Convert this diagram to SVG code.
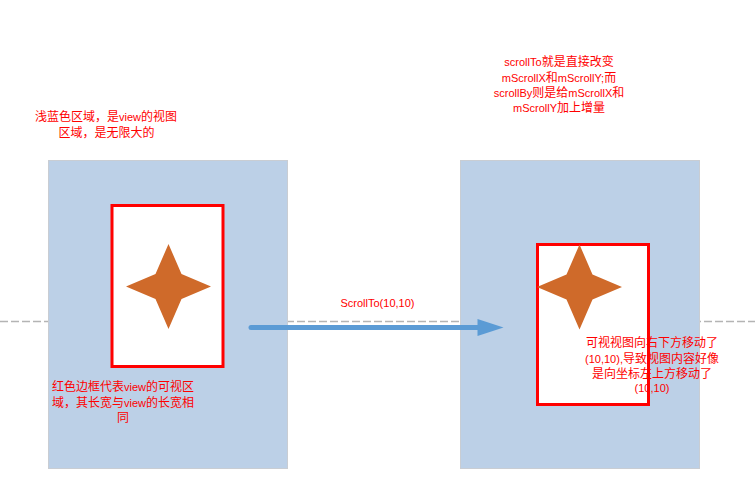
<svg xmlns="http://www.w3.org/2000/svg" width="755" height="501" viewBox="0 0 755 501">
<style>
.view{fill:#BCD0E7;stroke:#C9CDD3;stroke-width:1}
.frame{fill:#FFFFFF;stroke:#FF0000;stroke-width:3}
.star{fill:#CF6A2A}
.t{font-family:"Liberation Sans","Noto Sans CJK SC",sans-serif;font-size:12px;fill:#FF0000;text-anchor:middle}
.l{font-size:11px}
.dash{stroke:#B4B4B4;stroke-width:1.3;stroke-dasharray:8 3;fill:none}
</style>
<defs>
<polygon id="starShape" points="0,-42.5 13,-12.5 42.5,0 13,12.5 0,42.5 -13,12.5 -42.5,0 -13,-12.5"/>
</defs>
<rect width="755" height="501" fill="#FFFFFF"/>
<line class="dash" x1="0" y1="321.5" x2="755" y2="321.5"/>
<g id="left-view">
<rect class="view" x="48.5" y="160.5" width="239" height="308"/>
</g>
<g id="right-view">
<rect class="view" x="460.5" y="160.5" width="239" height="308"/>
</g>
<g id="left-frame">
<rect class="frame" x="112" y="205.5" width="111" height="161"/>
<use href="#starShape" class="star" transform="translate(168.5,286.5)"/>
</g>
<g id="right-frame">
<rect class="frame" x="537.5" y="244.5" width="111" height="160"/>
<use href="#starShape" class="star" transform="translate(579.5,287)"/>
</g>
<g id="connectors">
<line x1="251" y1="327.5" x2="479" y2="327.5" stroke="#5B9BD5" stroke-width="5" stroke-linecap="round"/>
<polygon points="477.5,319 503.5,327.5 477.5,336" fill="#5B9BD5"/>
<text class="t l" x="377.5" y="307">ScrollTo(10,10)</text>
</g>
<g id="label-top-left">
<text class="t" x="106" y="121">浅蓝色区域，是<tspan class="l">view</tspan>的视图</text>
<text class="t" x="106.5" y="137">区域，是无限大的</text>
</g>
<g id="label-top-right">
<text class="t" x="559" y="66"><tspan class="l">scrollTo</tspan>就是直接改变</text>
<text class="t" x="559" y="81.5"><tspan class="l">mScrollX</tspan>和<tspan class="l">mScrollY;</tspan>而</text>
<text class="t" x="559" y="96.5"><tspan class="l">scrollBy</tspan>则是给<tspan class="l">mScrollX</tspan>和</text>
<text class="t" x="559" y="111.5"><tspan class="l">mScrollY</tspan>加上增量</text>
</g>
<g id="label-bottom-left">
<text class="t" x="123" y="391">红色边框代表<tspan class="l">view</tspan>的可视区</text>
<text class="t" x="123" y="406.5">域，其长宽与<tspan class="l">view</tspan>的长宽相</text>
<text class="t" x="123" y="422">同</text>
</g>
<g id="label-right">
<text class="t" x="652" y="347">可视视图向右下方移动了</text>
<text class="t" x="652" y="362.5"><tspan class="l">(10,10),</tspan>导致视图内容好像</text>
<text class="t" x="652" y="377.5">是向坐标左上方移动了</text>
<text class="t l" x="652" y="392">(10,10)</text>
</g>
</svg>
